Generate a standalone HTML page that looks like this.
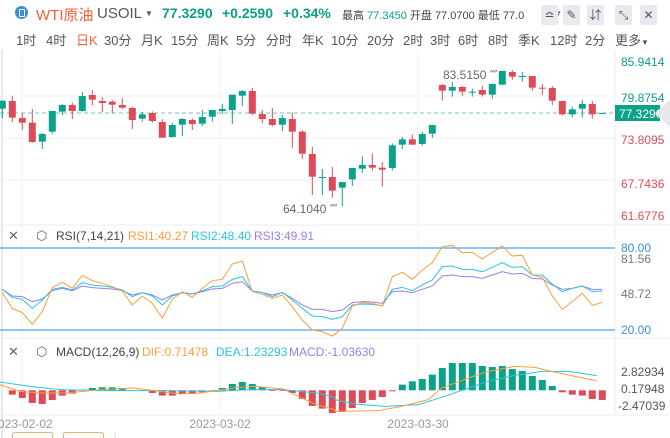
<!DOCTYPE html>
<html><head><meta charset="utf-8"><style>
body{margin:0;width:670px;height:438px;overflow:hidden;background:#fff;font-family:"Liberation Sans","Noto Sans CJK SC",sans-serif;position:relative}
.a{position:absolute;white-space:nowrap}
.t{font-size:13px;color:#555;top:30px}
.ib{position:absolute;top:5px;width:17px;height:20px;background:#e8eaef;border-radius:2px;color:#555;font-size:12px;text-align:center;line-height:20px}
</style></head><body>
<div class="a" style="left:15px;top:6px;width:13px;height:13px;border-radius:50%;background:#3a8fd8"></div>
<div class="a" style="left:19px;top:9px;width:4px;height:6px;border:1px solid #fff;border-radius:1px"></div>
<div class="a" style="left:36px;top:4px;font-size:15px;color:#f0603c">WTI原油</div>
<div class="a" style="left:97px;top:5px;font-size:15px;color:#555">USOIL</div>
<div class="a" style="left:145px;top:9px;font-size:8px;color:#555">▼</div>
<div class="a" style="left:162px;top:5px;font-size:14px;color:#0a9e87;font-weight:bold">77.3290</div>
<div class="a" style="left:222px;top:5px;font-size:14px;color:#0a9e87;font-weight:bold">+0.2590</div>
<div class="a" style="left:283px;top:5px;font-size:14px;color:#0a9e87;font-weight:bold">+0.34%</div>
<div class="a" style="left:342px;top:7px;font-size:11px;color:#444">最高 <span style="color:#0a9e87">77.3450</span> 开盘 77.0700 最低 77.0&nbsp;&nbsp;&nbsp;&nbsp;&nbsp;&nbsp;&nbsp;&nbsp;07</div>
<div class="ib" style="left:541px">≏</div><div class="ib" style="left:563px">✎</div><div class="ib" style="left:587px">⇵</div><div class="ib" style="left:615px">⤡</div><div class="ib" style="left:640px">✕</div>
<div class="a t" style="left:16px">1时</div><div class="a t" style="left:46px">4时</div><div class="a t" style="left:76px;color:#f0603c">日K</div><div class="a t" style="left:104px">30分</div><div class="a t" style="left:141px">月K</div><div class="a t" style="left:171px">15分</div><div class="a t" style="left:207px">周K</div><div class="a t" style="left:236px">5分</div><div class="a t" style="left:266px">分时</div><div class="a t" style="left:302px">年K</div><div class="a t" style="left:331px">10分</div><div class="a t" style="left:367px">20分</div><div class="a t" style="left:403px">2时</div><div class="a t" style="left:430px">3时</div><div class="a t" style="left:458px">6时</div><div class="a t" style="left:488px">8时</div><div class="a t" style="left:518px">季K</div><div class="a t" style="left:550px">12时</div><div class="a t" style="left:585px">2分</div><div class="a t" style="left:615px">更多<span style="font-size:8px">▼</span></div>
<svg id="s" width="670" height="438" style="position:absolute;left:0;top:0" font-family="Liberation Sans, Noto Sans CJK SC, sans-serif"></svg>
<script>
var S=[],G='#0aa288',R='#dc4b57';
function L(x1,y1,x2,y2,c,w,d){S.push('<line x1="'+x1+'" y1="'+y1+'" x2="'+x2+'" y2="'+y2+'" stroke="'+c+'" stroke-width="'+(w||1)+'"'+(d?' stroke-dasharray="'+d+'"':'')+'/>');}
function T(x,y,t,c,s,a){S.push('<text x="'+x+'" y="'+y+'" fill="'+c+'" font-size="'+(s||12)+'"'+(a?' text-anchor="'+a+'"':'')+'>'+t+'</text>');}
L(2,50,2,438,'#e6e8ee',2);
[96,138,180].forEach(function(y){L(0,y,615,y,'#f0f0f3');});
[22,220,418].forEach(function(x){L(x,50,x,415,'#f0f0f3');});
L(615,50,615,415,'#eceef2');
L(0,225,670,225,'#eceef2');L(0,338,670,338,'#eceef2');L(0,415,670,415,'#eceef2');
L(0,113,615,113,'#6cc9b4',1,'4,3');
var C=[[1,122,146,122,175],[0,123,173,108,186],[0,174,188,160,210],[0,188,246,147,248],[1,222,245,219,267],[1,153,215,153,221],[1,135,155,132,165],[0,135,153,128,177],[1,108,153,96,155],[0,105,119,90,135],[0,123,129,111,157],[0,125,134,120,160],[0,135,143,114,147],[0,144,180,140,207],[1,163,176,156,185],[0,159,183,154,188],[0,186,233,178,233],[1,195,231,189,233],[1,177,194,174,228],[0,180,192,175,210],[1,171,191,150,198],[1,150,170,150,185],[1,147,153,132,162],[1,104,150,104,192],[1,93,107,90,138],[0,93,161,84,165],[0,162,177,150,190],[0,177,195,144,200],[1,174,194,165,213],[0,177,215,157,264],[0,215,281,211,297],[0,282,350,261,405],[1,351,353,327,405],[0,351,392,321,413],
[1,366,383,366,438],[1,324,358,324,378],[1,315,326,289,338],[0,315,323,280,332],[0,323,329,306,380],[1,256,324,250,332],[1,238,254,231,267],[0,238,254,223,254],[1,222,252,215,257],[1,195,221,195,234],[0,75,92,72,122],[1,81,92,66,110],[0,81,95,78,107],[1,95,97,86,110],[0,90,104,78,110],[1,72,104,70,116],[1,33,74,33,74],[0,36,50,30,59],[1,48,50,36,65],[0,48,83,48,92],[0,83,85,72,104],[0,84,122,78,135],[0,123,163,123,166],[1,148,163,140,172],[1,132,146,120,172],[0,132,163,123,176],[1,159,162,159,162]];
function X(i){return 2.3+10*i;}
C.forEach(function(c,i){var x=X(i),col=c[0]?G:R;L(x,60+c[3]/3,x,60+c[4]/3,col,1);var h=Math.max((c[2]-c[1])/3,1);S.push('<rect x="'+(x-3.5)+'" y="'+(60+c[1]/3)+'" width="7" height="'+h+'" fill="'+col+'"/>');});
T(443,79,'83.5150 ⁗','#666',12);T(283,213,'64.1040 ⁗','#666',12);
T(621,66,'85.9414','#0a9e87',12);T(621,102,'79.8754','#0a9e87',12);
S.push('<rect x="615" y="105" width="45" height="16" fill="#0aa288"/>');T(619,118,'77.3290','#fff',12);
T(621,144,'73.8095','#dc4b57',12);T(621,188,'67.7436','#dc4b57',12);T(621,220,'61.6776','#dc4b57',12);
S.push('<polygon points="670,100 655,113 670,127" fill="#e6e8ec"/>');
T(8,240,'✕','#666',13);T(36,240,'⬡','#666',13);T(56,240,'RSI(7,14,21)','#444',12);T(128,240,'RSI1:40.27','#ff9d3e',12);T(191,240,'RSI2:48.40','#2cc4e0',12);T(254,240,'RSI3:49.91','#9b7fe8',12);
L(0,248,615,248,'#4aa3ef',1.2);L(0,330,615,330,'#4aa3ef',1.2);
var O=[218,265,278,313,275,203,187,205,166,182,190,200,213,255,228,250,294,238,215,232,205,182,178,132,123,214,223,235,225,260,300,330,335,348,325,258,248,250,258,170,157,178,150,128,80,76,98,97,117,97,78,108,106,165,172,228,268,245,220,256,247];
var Cy=[208,232,238,265,240,208,202,210,188,195,198,202,210,230,218,228,255,228,218,222,212,200,198,178,170,213,218,230,217,240,265,288,290,298,290,255,252,253,257,208,202,212,195,180,140,138,148,148,155,142,128,142,140,165,165,192,215,205,198,215,213];
var P=[208,228,230,245,237,212,205,212,198,203,205,207,212,225,218,225,240,225,218,222,215,207,205,190,185,213,218,225,218,235,255,268,268,275,270,248,245,246,250,215,213,218,208,198,168,165,170,170,175,165,155,162,160,175,177,195,208,205,198,208,208];
function PL(a,c,f){S.push('<polyline fill="none" stroke="'+c+'" stroke-width="1" points="'+a.map(function(v,i){return X(i)+','+f(v);}).join(' ')+'"/>');}
PL(P,'#9b7fe8',function(v){return 220+v/3});PL(Cy,'#2cc4e0',function(v){return 220+v/3});PL(O,'#ff9d3e',function(v){return 220+v/3});
T(621,252,'80.00','#3a90e0',12);T(621,263,'81.56','#777',12);T(621,298,'48.72','#777',12);T(621,334,'20.00','#3a90e0',12);
T(8,356,'✕','#666',13);T(36,356,'⬡','#666',13);T(56,356,'MACD(12,26,9)','#444',12);T(142,356,'DIF:0.71478','#ff9d3e',12);T(216,356,'DEA:1.23293','#2cc4e0',12);T(289,356,'MACD:-1.03630','#9b7fe8',12);
var M=[0,13,23,38,41,29,16,10,-2,-7,-9,-9,-7,2,2,8,16,16,11,11,6,-1,-7,-19,-25,-19,-10,2,2,8,26,47,55,68,65,53,38,29,20,3,-17,-27,-34,-47,-67,-82,-82,-82,-73,-70,-73,-64,-58,-43,-31,-13,6,13,16,26,29];
M.forEach(function(v,i){if(!v)return;var y0=390.3,h=Math.abs(v)/3;S.push('<rect x="'+(X(i)-3.5)+'" y="'+(v>0?y0:y0-h)+'" width="7" height="'+h+'" fill="'+(v>0?R:G)+'"/>');});
function PX(pts,c){S.push('<polyline fill="none" stroke="'+c+'" stroke-width="1" points="'+pts.map(function(p){return p[0]+','+p[1];}).join(' ')+'"/>');}
var dif=[[0,140],[60,160],[120,165],[200,165],[300,155],[400,150],[480,160],[540,168],[600,165],[700,150],[760,145],[850,153],[900,178],[950,200],[1005,215]].map(function(p){return [p[0]/3,338+p[1]/3]}).concat([[0,220],[130,218],[200,205],[280,185],[320,150],[400,120],[460,100],[540,85],[600,88],[650,100],[720,115],[785,128]].map(function(p){return [335+p[0]/3,338+p[1]/3]}));
var dea=[[0,132],[90,145],[180,155],[300,158],[500,158],[650,160],[750,155],[850,155],[950,165],[1005,178]].map(function(p){return [p[0]/3,338+p[1]/3]}).concat([[0,185],[60,198],[150,205],[250,200],[330,175],[400,150],[460,130],[540,112],[620,100],[700,100],[785,113]].map(function(p){return [335+p[0]/3,338+p[1]/3]}));
PX(dea,'#2cc4e0');PX(dif,'#ff9d3e');
T(621,376,'2.82934','#555',12);T(621,393,'0.17948','#555',12);T(618,410,'-2.47039','#555',12);
T(22,428,'2023-02-02','#999',12,'middle');T(220,428,'2023-03-02','#999',12,'middle');T(418,428,'2023-03-30','#999',12,'middle');
S.push('<rect x="12.5" y="432.5" width="40" height="10" fill="none" stroke="#f0b070" rx="2"/><rect x="63.5" y="432.5" width="40" height="10" fill="none" stroke="#f0b070" rx="2"/>');
L(115,432,115,438,'#e0e0e0');
document.getElementById('s').innerHTML=S.join('');
</script>
</body></html>
